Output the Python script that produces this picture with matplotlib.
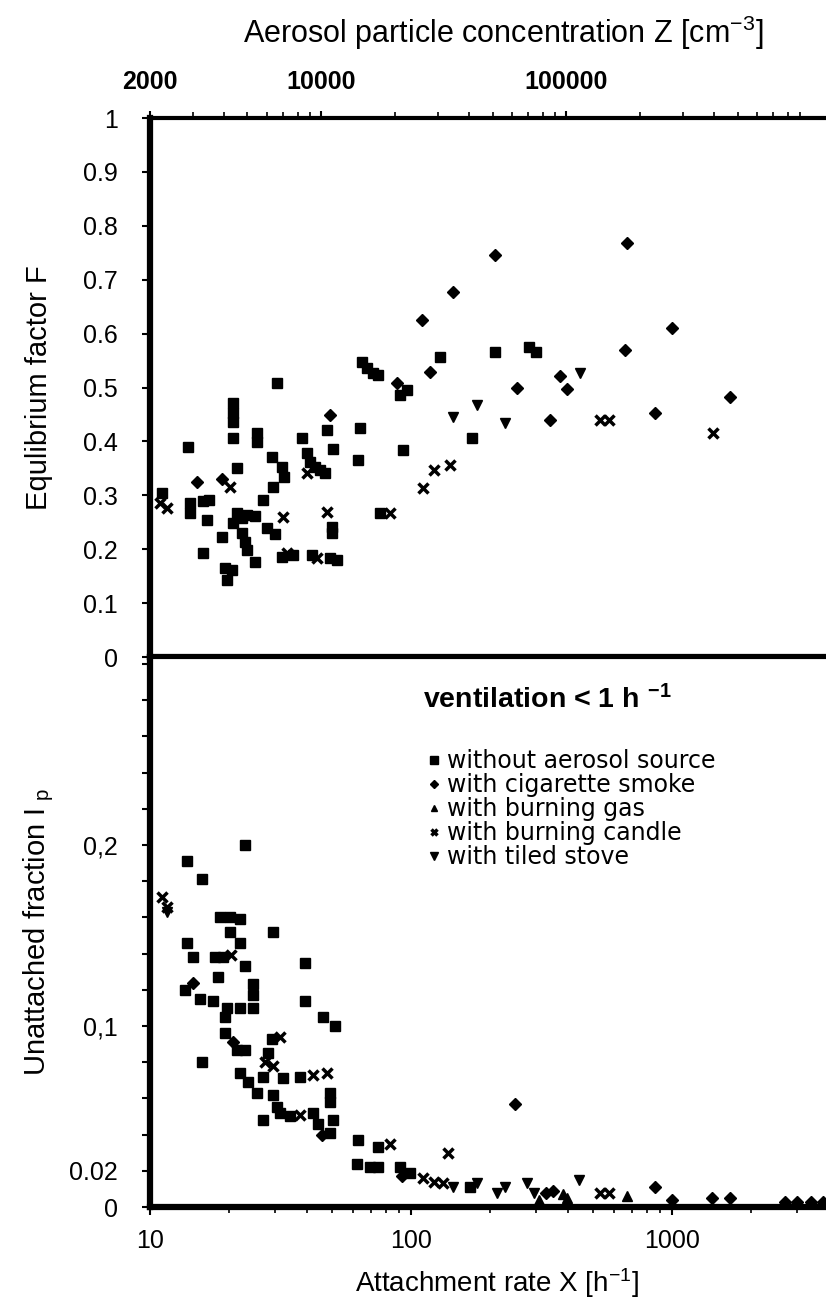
import matplotlib.pyplot as plt
import matplotlib.ticker as mticker

plt.rcParams['font.family'] = ['Liberation Sans', 'DejaVu Sans']
plt.rcParams['mathtext.default'] = 'regular'

# TOP PANEL: EQUILIBRIUM FACTOR F VS ATTACHMENT RATE X
top_sq_x = [11.1, 14.0, 15.9, 14.2, 14.2, 16.0, 16.8, 16.5, 18.9, 19.4, 19.7, 20.6, 20.8, 20.8,
            20.8, 20.8, 21.5, 21.5, 23.5, 25.3, 20.8, 22.5, 22.5, 23.1, 23.5, 25.3, 25.6, 25.6,
            27.1, 29.3, 30.6, 29.6, 32.0, 32.5, 28.1, 30.1, 32.0, 35.3, 38.2, 39.9, 41.0, 42.9,
            44.8, 46.8, 41.7, 49.7, 49.7, 48.9, 52.0, 47.6, 50.3, 63.7, 62.7, 64.9, 67.7, 71.3,
            74.6, 76.0, 90.6, 96.5, 93.3, 129, 171, 210, 284, 302]
top_sq_f = [0.304, 0.39, 0.193, 0.286, 0.267, 0.29, 0.292, 0.254, 0.222, 0.165, 0.143, 0.161, 0.471, 0.453,
            0.436, 0.406, 0.351, 0.267, 0.263, 0.262, 0.249, 0.258, 0.23, 0.213, 0.199, 0.176, 0.416, 0.399,
            0.291, 0.371, 0.508, 0.315, 0.353, 0.334, 0.239, 0.229, 0.186, 0.189, 0.406, 0.378, 0.362, 0.353,
            0.347, 0.341, 0.189, 0.241, 0.23, 0.184, 0.18, 0.421, 0.386, 0.425, 0.366, 0.547, 0.536, 0.527,
            0.523, 0.267, 0.486, 0.495, 0.384, 0.557, 0.406, 0.566, 0.575, 0.566]
top_cig_x = [15.1, 18.9, 48.9, 88.3, 110, 118, 145, 210, 254, 342, 372, 396, 660, 675, 860, 1000, 1670]
top_cig_f = [0.325, 0.33, 0.449, 0.508, 0.625, 0.529, 0.677, 0.746, 0.499, 0.44, 0.521, 0.497, 0.57,
             0.768, 0.453, 0.61, 0.483]
top_candle_x = [10.9, 11.6, 20.2, 33.6, 32.3, 47.6, 43.6, 39.9, 83, 111, 123, 141, 528, 574, 1440]
top_candle_f = [0.286, 0.276, 0.315, 0.193, 0.26, 0.269, 0.184, 0.341, 0.267, 0.313, 0.347, 0.356,
                0.44, 0.44, 0.416]
top_stove_x = [145, 179, 229, 445]
top_stove_f = [0.445, 0.468, 0.434, 0.527]

# BOTTOM PANEL: UNATTACHED FRACTION VS ATTACHMENT RATE X
bot_sq_x = [13.9, 15.8, 23.2, 18.5, 20.2, 22.1, 20.2, 22.1, 17.7, 19.0, 13.9, 14.6, 29.6, 23.2, 18.2,
            24.8, 24.8, 13.6, 15.5, 17.4, 19.7, 22.1, 24.8, 19.4, 39.3, 39.3, 46, 51, 15.8, 19.4,
            21.5, 23.2, 29.3, 28.3, 22.1, 23.8, 25.7, 27.1, 32.3, 37.6, 27.1, 29.6, 30.6, 31.5,
            34.4, 48.9, 48.9, 42, 44.1, 48.9, 50.3, 62.7, 62.2, 69.6, 74.6, 74.6, 90.6, 98.7, 168]
bot_sq_f = [0.191, 0.181, 0.2, 0.16, 0.16, 0.159, 0.152, 0.146, 0.138, 0.138, 0.146, 0.138, 0.152, 0.133, 0.127,
            0.123, 0.117, 0.12, 0.115, 0.114, 0.11, 0.11, 0.11, 0.105, 0.135, 0.114, 0.105, 0.1, 0.08, 0.096,
            0.087, 0.087, 0.093, 0.085, 0.074, 0.069, 0.063, 0.072, 0.071, 0.072, 0.048, 0.062, 0.055, 0.052,
            0.05, 0.063, 0.058, 0.052, 0.046, 0.041, 0.048, 0.037, 0.024, 0.022, 0.022, 0.033, 0.022, 0.019, 0.011]
bot_cig_x = [14.6, 20.8, 45.7, 92.2, 250, 330, 350, 860, 1000, 1420, 1670, 2700, 3000, 3400, 3800]
bot_cig_f = [0.124, 0.091, 0.04, 0.017, 0.057, 0.008, 0.009, 0.011, 0.004, 0.005, 0.005, 0.003, 0.003,
             0.003, 0.003]
bot_gas_x = [309, 382, 396, 675]
bot_gas_f = [0.004, 0.007, 0.005, 0.006]
bot_candle_x = [11.1, 11.6, 31.5, 27.6, 29.6, 42, 47.6, 83, 138, 111, 122, 133, 528, 574, 20.5, 37.6]
bot_candle_f = [0.171, 0.166, 0.094, 0.08, 0.078, 0.073, 0.074, 0.035, 0.03, 0.016, 0.014, 0.013,
                0.008, 0.008, 0.139, 0.051]
bot_stove_x = [11.6, 145, 179, 213, 229, 442, 279, 297]
bot_stove_f = [0.163, 0.011, 0.013, 0.008, 0.011, 0.015, 0.013, 0.008]

# AXIS TICKS
top_yticks = [0, 0.1, 0.2, 0.3, 0.4, 0.5, 0.6, 0.7, 0.8, 0.9, 1]
top_ylabels = ['0', '0.1', '0.2', '0.3', '0.4', '0.5', '0.6', '0.7', '0.8', '0.9', '1']
bot_yticks = [0, 0.02, 0.1, 0.2]
bot_ylabels = ['0', '0.02', '0,1', '0,2']
x_ticks = [10, 100, 1000]
x_labels = ['10', '100', '1000']
z_ticks = [2000, 10000, 100000]
z_labels = ['2000', '10000', '100000']

labels = ['without aerosol source', 'with cigarette smoke', 'with burning gas',
          'with burning candle', 'with tiled stove']

fig = plt.figure(figsize=(8.26, 13.01), dpi=100)
ax_t = fig.add_axes([0.1816, 0.495, 0.839, 0.4143])
ax_b = fig.add_axes([0.1816, 0.07225, 0.839, 0.4228])

XMAX = 10 ** (1 + 693 / 261)

sq = dict(marker='s', ms=7.5, color='black', ls='none')
dm = dict(marker='D', ms=6, color='black', ls='none')
tu = dict(marker='^', ms=7, color='black', ls='none')
cx = dict(marker='x', ms=7, mew=2.5, color='black', ls='none')
tv = dict(marker='v', ms=7.5, color='black', ls='none')

ax_t.plot(top_sq_x, top_sq_f, **sq)
ax_t.plot(top_cig_x, top_cig_f, **dm)
ax_t.plot(top_candle_x, top_candle_f, **cx)
ax_t.plot(top_stove_x, top_stove_f, **tv)

h1, = ax_b.plot(bot_sq_x, bot_sq_f, **sq)
h2, = ax_b.plot(bot_cig_x, bot_cig_f, **dm)
h3, = ax_b.plot(bot_gas_x, bot_gas_f, **tu)
h4, = ax_b.plot(bot_candle_x, bot_candle_f, **cx)
h5, = ax_b.plot(bot_stove_x, bot_stove_f, **tv)

for ax in (ax_t, ax_b):
    ax.set_xscale('log')
    ax.set_xlim(10, XMAX)
    ax.spines['left'].set_linewidth(4.5)
    ax.spines['bottom'].set_linewidth(4.5)
    ax.spines['top'].set_linewidth(3)
    ax.spines['right'].set_visible(False)
    ax.tick_params(axis='y', direction='out', length=6, width=1.5, pad=17, labelsize=18)
    ax.tick_params(axis='x', which='major', direction='out', length=6, width=1.5, pad=10, labelsize=18)
    ax.tick_params(axis='x', which='minor', direction='out', length=4, width=1.2)

ax_t.set_ylim(0, 1)
ax_t.set_yticks(top_yticks)
ax_t.set_yticklabels(top_ylabels)
ax_t.tick_params(axis='x', which='both', labelbottom=False, bottom=False)
ax_t.set_ylabel('Equlibrium factor F', fontsize=21)
ax_t.yaxis.set_label_coords(-0.14, 0.5)

ax_b.set_ylim(0, 550 / 1810)
ax_b.set_yticks(bot_yticks)
ax_b.set_yticklabels(bot_ylabels)
ax_b.yaxis.set_minor_locator(mticker.MultipleLocator(0.02))
ax_b.tick_params(axis='y', which='minor', direction='out', length=6, width=1.5)
ax_b.set_xticks(x_ticks)
ax_b.set_xticklabels(x_labels)
ax_b.xaxis.set_minor_locator(mticker.LogLocator(base=10, subs=range(2, 10)))
ax_b.xaxis.set_minor_formatter(mticker.NullFormatter())
ax_b.set_ylabel('Unattached fraction I$_{\\ p}$', fontsize=21)
ax_b.yaxis.set_label_coords(-0.135, 0.5)
ax_b.set_xlabel('Attachment rate X [h$^{-1}$]', fontsize=20, labelpad=9)

# TOP AXIS: AEROSOL PARTICLE CONCENTRATION
ax_z = ax_t.twiny()
ax_z.set_xscale('log')
ax_z.set_xlim(2000, 2000 * 10 ** (693 / 245))
ax_z.set_xticks(z_ticks)
ax_z.set_xticklabels(z_labels, fontweight='bold')
ax_z.xaxis.set_minor_locator(mticker.LogLocator(base=10, subs=range(2, 10)))
ax_z.xaxis.set_minor_formatter(mticker.NullFormatter())
ax_z.tick_params(axis='x', which='major', direction='out', length=5, width=1.5, pad=12, labelsize=18)
ax_z.tick_params(axis='x', which='minor', direction='out', length=4, width=1.2)
for s in ax_z.spines.values():
    s.set_visible(False)

fig.text(503 / 826, 1 - 33 / 1301, 'Aerosol particle concentration Z [cm$^{-3}$]',
         ha='center', va='center', fontsize=22)

# LEGEND
ax_b.text(0.394, 0.922, 'ventilation < 1 h $^{-1}$', transform=ax_b.transAxes,
          ha='left', va='center', fontsize=20.5, fontweight='bold')
ax_b.legend([h1, h2, h3, h4, h5], labels, loc='upper left', bbox_to_anchor=(0.401, 0.832),
            frameon=False, prop={'family': 'DejaVu Sans', 'size': 17}, handlelength=0.5,
            handletextpad=0.3, labelspacing=0.0, borderpad=0, borderaxespad=0, markerscale=0.7)

fig.savefig('out.png', dpi=100)
